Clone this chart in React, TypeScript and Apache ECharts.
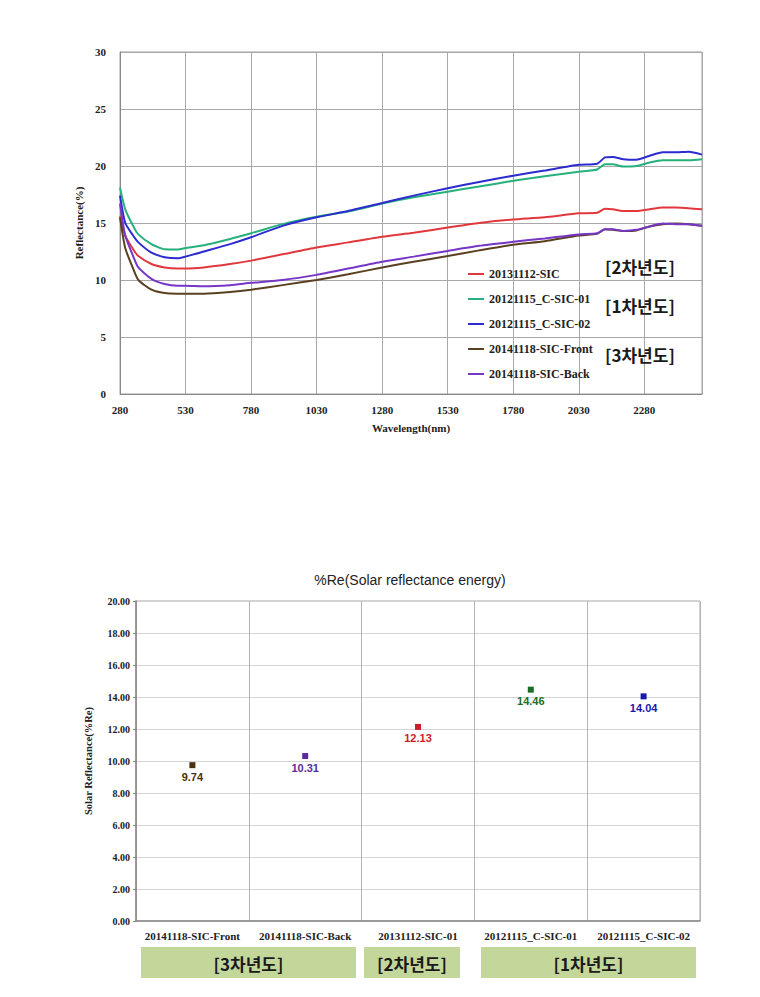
import React, { useEffect, useRef } from "react";
import * as echarts from "echarts";

// ---------- Top chart data (reflectance spectra) ----------
const wavelengths = [280, 300, 330, 350, 400, 450, 500, 530, 600, 700, 780, 900, 1030, 1150, 1280, 1400, 1530, 1650, 1780, 1900, 2030, 2100, 2130, 2160, 2200, 2250, 2300, 2350, 2400, 2450, 2500];
const sic2013 = [15.6, 13.9, 12.7, 12.1, 11.4, 11.1, 11.0, 11.0, 11.1, 11.4, 11.7, 12.25, 12.85, 13.3, 13.8, 14.15, 14.6, 15.0, 15.3, 15.5, 15.85, 15.9, 16.25, 16.2, 16.05, 16.05, 16.2, 16.35, 16.35, 16.3, 16.2];
const csic01 = [18.1, 16.2, 14.75, 14.0, 13.15, 12.7, 12.68, 12.8, 13.05, 13.6, 14.1, 14.9, 15.55, 16.0, 16.7, 17.25, 17.75, 18.2, 18.7, 19.1, 19.5, 19.7, 20.15, 20.15, 19.95, 20.0, 20.3, 20.5, 20.5, 20.5, 20.6];
const csic02 = [17.4, 15.0, 13.9, 13.3, 12.4, 12.0, 11.9, 12.05, 12.5, 13.15, 13.75, 14.75, 15.5, 16.05, 16.75, 17.4, 18.05, 18.6, 19.15, 19.6, 20.1, 20.2, 20.75, 20.8, 20.6, 20.55, 20.9, 21.2, 21.2, 21.25, 21.0];
const sicFront = [15.5, 12.8, 11.0, 10.0, 9.15, 8.85, 8.8, 8.8, 8.8, 8.95, 9.15, 9.55, 10.0, 10.5, 11.1, 11.6, 12.1, 12.6, 13.1, 13.4, 13.9, 14.05, 14.45, 14.4, 14.3, 14.35, 14.7, 14.9, 14.95, 14.9, 14.75];
const sicBack = [16.7, 13.9, 12.1, 11.1, 10.1, 9.65, 9.5, 9.5, 9.45, 9.55, 9.75, 10.0, 10.45, 11.0, 11.6, 12.05, 12.55, 13.0, 13.35, 13.65, 14.0, 14.1, 14.45, 14.45, 14.3, 14.4, 14.7, 14.95, 14.9, 14.9, 14.75];
const seriesNames = ["20131112-SIC", "20121115_C-SIC-01", "20121115_C-SIC-02", "20141118-SIC-Front", "20141118-SIC-Back"];
const seriesColors = ["#e0383c", "#26b07c", "#2b2bd0", "#5a4020", "#7636c6"];
const yearLabelsTop = ["[2차년도]", "[1차년도]", "[3차년도]"];

// ---------- Bottom chart data (solar reflectance energy) ----------
const categories = ["20141118-SIC-Front", "20141118-SIC-Back", "20131112-SIC-01", "20121115_C-SIC-01", "20121115_C-SIC-02"];
const reValues = [9.74, 10.31, 12.13, 14.46, 14.04];
const pointColors = ["#4a3010", "#5e2a9a", "#cc1c28", "#1b6e26", "#1a1aa8"];
const yearGroups = ["[3차년도]", "[2차년도]", "[1차년도]"];

const X0 = 280;

export default function App() {
  const ref = useRef<HTMLDivElement>(null);
  useEffect(() => {
    if (!ref.current) return;
    const chart = echarts.init(ref.current, null, { renderer: "svg" });
    const allSeries = [sic2013, csic01, csic02, sicFront, sicBack];
    const serif = "Liberation Serif";
    const lineSeries = allSeries.map((vals, i) => ({
      type: "line",
      name: seriesNames[i],
      xAxisIndex: 0,
      yAxisIndex: 0,
      data: wavelengths.map((w, j) => [w - X0, vals[j]]),
      showSymbol: false,
      smooth: 0.2,
      lineStyle: { color: seriesColors[i], width: 2 },
      itemStyle: { color: seriesColors[i] },
      z: 3,
    }));

    const boxes = [
      { x: 141, w: 215 },
      { x: 364, w: 96 },
      { x: 481, w: 215 },
    ];

    chart.setOption({
      animation: false,
      backgroundColor: "#ffffff",
      grid: [
        { left: 120, right: 58, top: 52, bottom: 603, show: true, borderColor: "#a0a0a0", borderWidth: 1 },
        { left: 136, right: 60, top: 601, bottom: 76, show: true, borderColor: "#a8a8a8", borderWidth: 1 },
      ],
      legend: {
        orient: "vertical",
        left: 463,
        top: 262,
        icon: "rect",
        itemWidth: 16,
        itemHeight: 2,
        itemGap: 11,
        data: seriesNames,
        textStyle: { fontFamily: serif, fontWeight: "bold", fontSize: 12, color: "#222", lineHeight: 14 },
      },
      xAxis: [
        {
          type: "value",
          gridIndex: 0,
          min: 0,
          max: 2500 - X0,
          interval: 250,
          name: "Wavelength(nm)",
          nameLocation: "middle",
          nameGap: 28,
          nameTextStyle: { fontFamily: serif, fontWeight: "bold", fontSize: 11, color: "#222" },
          axisLine: { lineStyle: { color: "#888", width: 1 } },
          axisTick: { show: false },
          axisLabel: {
            fontFamily: serif,
            fontWeight: "bold",
            fontSize: 11,
            color: "#222",
            margin: 10,
            showMaxLabel: false,
            formatter: (v: number) => String(v + X0),
          },
          splitLine: { show: true, lineStyle: { color: "#a8a8a8", width: 1 } },
        },
        {
          type: "category",
          gridIndex: 1,
          data: categories,
          axisLine: { lineStyle: { color: "#888", width: 1.5 } },
          axisTick: { show: false },
          axisLabel: { fontFamily: serif, fontWeight: "bold", fontSize: 11, color: "#222", margin: 9, interval: 0 },
          splitLine: { show: true, interval: 0, lineStyle: { color: "#b4b4b4", width: 1 } },
        },
      ],
      yAxis: [
        {
          type: "value",
          gridIndex: 0,
          min: 0,
          max: 30,
          interval: 5,
          name: "Reflectance(%)",
          nameLocation: "middle",
          nameGap: 22,
          nameRotate: 90,
          nameTextStyle: { fontFamily: serif, fontWeight: "bold", fontSize: 11, color: "#222" },
          axisLine: { show: true, lineStyle: { color: "#888", width: 1 } },
          axisTick: { show: false },
          axisLabel: { fontFamily: serif, fontWeight: "bold", fontSize: 11, color: "#222", margin: 14 },
          splitLine: { show: true, lineStyle: { color: "#a8a8a8", width: 1 } },
        },
        {
          type: "value",
          gridIndex: 1,
          min: 0,
          max: 20,
          interval: 2,
          name: "Solar Reflectance(%Re)",
          nameLocation: "middle",
          nameGap: 42,
          nameRotate: 90,
          nameTextStyle: { fontFamily: serif, fontWeight: "bold", fontSize: 10.5, color: "#222" },
          axisLine: { show: true, lineStyle: { color: "#888", width: 1.5 } },
          axisTick: { show: true, length: 3, lineStyle: { color: "#888" } },
          axisLabel: {
            fontFamily: serif,
            fontWeight: "bold",
            fontSize: 10,
            color: "#222",
            margin: 6,
            formatter: (v: number) => v.toFixed(2),
          },
          splitLine: { show: true, lineStyle: { color: "#d4d4d4", width: 1 } },
        },
      ],
      series: [
        ...lineSeries,
        {
          type: "scatter",
          name: "Re",
          xAxisIndex: 1,
          yAxisIndex: 1,
          symbol: "rect",
          symbolSize: 6,
          itemStyle: { opacity: 1 },
          data: reValues.map((v, i) => ({
            value: [categories[i], v],
            itemStyle: { color: pointColors[i], opacity: 1 },
            label: { color: pointColors[i] },
          })),
          label: {
            show: true,
            position: "bottom",
            distance: 3,
            fontFamily: "Liberation Sans",
            fontWeight: "bold",
            fontSize: 11,
            formatter: (p: any) => Number(p.value[1]).toFixed(2),
          },
        },
      ],
      graphic: [
        ...yearLabelsTop.map((t, i) => ({
          type: "text",
          left: 605,
          top: [258, 297, 346][i],
          style: { text: t, font: "600 17px 'Noto Sans CJK KR'", fill: "#1a1a1a" },
          z: 10,
        })),
        {
          type: "text",
          x: 410,
          y: 580,
          style: {
            text: "%Re(Solar reflectance energy)",
            font: "14px 'Liberation Sans'",
            fill: "#222",
            align: "center",
            verticalAlign: "middle",
          },
        },
        ...boxes.map((b, i) => ({
          type: "group",
          children: [
            { type: "rect", shape: { x: b.x, y: 947, width: b.w, height: 31 }, style: { fill: "#c4d79b" } },
            {
              type: "text",
              x: b.x + b.w / 2,
              y: 963,
              style: {
                text: yearGroups[i],
                font: "600 17px 'Noto Sans CJK KR'",
                fill: "#1a1a1a",
                align: "center",
                verticalAlign: "middle",
              },
            },
          ],
        })),
      ],
    });
    return () => chart.dispose();
  }, []);
  return <div ref={ref} style={{ position: "absolute", left: 0, top: 0, width: 760, height: 997 }} />;
}
